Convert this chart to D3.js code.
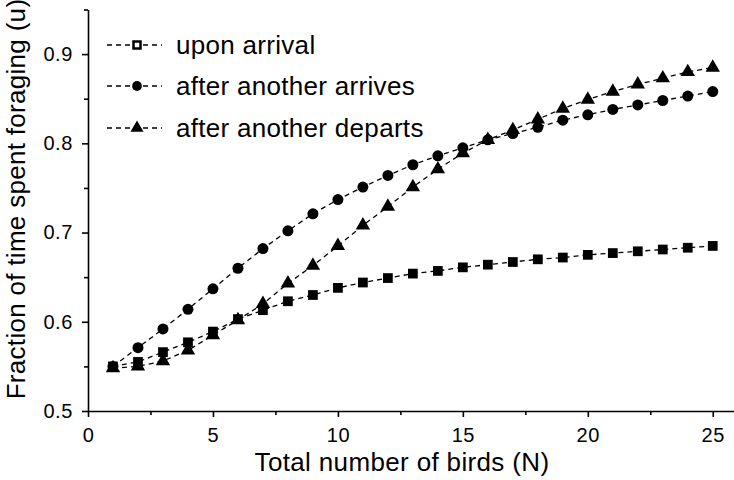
<!DOCTYPE html>
<html><head><meta charset="utf-8">
<script src="https://cdn.jsdelivr.net/npm/d3@7"></script>
<style>body{margin:0;background:#fff}</style>
</head><body>
<svg id="c" width="734" height="480"></svg>
<script>
const N = d3.range(1, 26);
const arrival = [0.550,0.555,0.566,0.577,0.589,0.603,0.613,0.623,0.630,0.638,0.644,0.649,0.654,0.657,0.661,0.664,0.667,0.670,0.672,0.675,0.677,0.679,0.681,0.683,0.685];
const afterArrives = [0.550,0.571,0.592,0.614,0.637,0.660,0.682,0.702,0.721,0.737,0.751,0.764,0.776,0.786,0.795,0.804,0.811,0.818,0.826,0.832,0.838,0.843,0.848,0.853,0.858];
const afterDeparts = [0.548,0.550,0.556,0.568,0.585,0.602,0.620,0.643,0.663,0.685,0.708,0.729,0.751,0.771,0.789,0.804,0.815,0.827,0.839,0.849,0.858,0.866,0.873,0.880,0.885];
const seriesNames = ["upon arrival","after another arrives","after another departs"];
const xTicks = [0,5,10,15,20,25];
const yTicks = [0.5,0.6,0.7,0.8,0.9];

const svg = d3.select("#c");
const x = d3.scaleLinear().domain([0, 25.85]).range([88, 734]);
const y = d3.scaleLinear().domain([0.5, 0.95]).range([411, 9.5]);
const font = "'Liberation Sans', Arial, sans-serif";

// axes
svg.append("g").attr("transform", `translate(0,${y(0.5)})`)
  .call(d3.axisBottom(x).tickValues(xTicks).tickFormat(d3.format("d")).tickSize(6).tickPadding(11).tickSizeOuter(0));
const xMinor = svg.append("g").attr("transform", `translate(0,${y(0.5)})`)
  .call(d3.axisBottom(x).tickValues(d3.range(2.5, 26, 5)).tickFormat("").tickSize(4).tickSizeOuter(0));
xMinor.select(".domain").remove();
svg.append("g").attr("transform", `translate(${x(0)},0)`)
  .call(d3.axisLeft(y).tickValues(yTicks).tickFormat(d3.format(".1f")).tickSize(6).tickPadding(9).tickSizeOuter(0));
const yMinor = svg.append("g").attr("transform", `translate(${x(0)},0)`)
  .call(d3.axisLeft(y).tickValues([0.55,0.65,0.75,0.85,0.95]).tickFormat("").tickSize(4).tickSizeOuter(0));
yMinor.select(".domain").remove();
svg.selectAll(".domain, .tick line").attr("stroke", "#000").attr("stroke-width", 1.6);
svg.selectAll(".tick text").attr("font-family", font).attr("font-size", 20)
  .attr("letter-spacing", 0.6).attr("fill", "#000");

// titles
svg.append("text").attr("x", 402).attr("y", 471).attr("text-anchor", "middle")
  .attr("font-family", font).attr("font-size", 26).attr("letter-spacing", 0.35).text("Total number of birds (N)");
svg.append("text").attr("transform", "translate(25,199) rotate(-90)").attr("text-anchor", "middle")
  .attr("font-family", font).attr("font-size", 26).attr("letter-spacing", 0.3).text("Fraction of time spent foraging (u)");

const data = [arrival, afterArrives, afterDeparts];
const symbols = [d3.symbolSquare, d3.symbolCircle, d3.symbolTriangle];
const sizes = [95, 95, 90];
const line = d3.line().x((d, i) => x(N[i])).y(d => y(d));

data.forEach((vals, k) => {
  svg.append("path").attr("d", line(vals)).attr("fill", "none").attr("stroke", "#000")
    .attr("stroke-width", 1.3).attr("stroke-dasharray", "5,4");
  svg.append("g").selectAll("path").data(vals).join("path")
    .attr("transform", (d, i) => `translate(${x(N[i])},${y(d)})`)
    .attr("d", d3.symbol().type(symbols[k]).size(sizes[k]))
    .attr("fill", "#000");
});

// legend
const legY = [45, 86, 128];
seriesNames.forEach((name, k) => {
  const g = svg.append("g").attr("transform", `translate(0,${legY[k]})`);
  g.append("line").attr("x1", 107).attr("x2", 162).attr("y1", 0).attr("y2", 0)
    .attr("stroke", "#000").attr("stroke-width", 1.3).attr("stroke-dasharray", "5,4");
  if (k === 0) {
    g.append("rect").attr("x", 133.5).attr("y", -3.5).attr("width", 7).attr("height", 7)
      .attr("fill", "#fff").attr("stroke", "#000").attr("stroke-width", 2.5);
  } else {
    g.append("path").attr("transform", "translate(137,0)")
      .attr("d", d3.symbol().type(symbols[k]).size(75)).attr("fill", "#000");
  }
  g.append("text").attr("x", 176).attr("y", 9).attr("font-family", font).attr("font-size", 26)
    .attr("letter-spacing", 0.3).text(name);
});
</script>
</body></html>
